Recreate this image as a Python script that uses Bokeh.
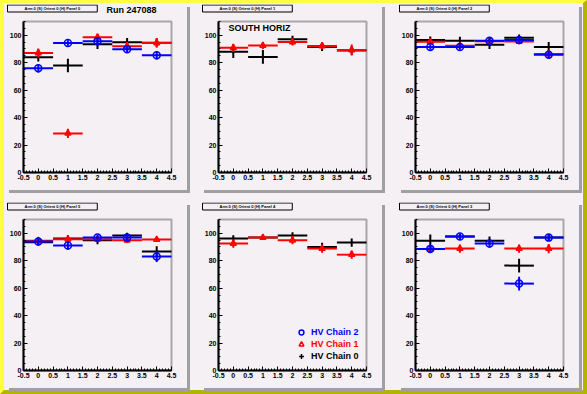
import math
from bokeh.plotting import figure
from bokeh.layouts import row, column
from bokeh.models import (Range1d, FixedTicker, Label, Legend, LegendItem, ColumnDataSource,
                          BoxAnnotation)
from bokeh.embed import file_html
from bokeh.resources import INLINE

# ---------------- data ----------------
bins = [0, 1, 2, 3, 4]
x_lo, x_hi = -0.5, 4.5
y_lo, y_hi = 0, 110
x_ticks = [-0.5, 0, 0.5, 1, 1.5, 2, 2.5, 3, 3.5, 4, 4.5]
x_tick_labels = ["-0.5", "0", "0.5", "1", "1.5", "2", "2.5", "3", "3.5", "4", "4.5"]
y_ticks = [0, 20, 40, 60, 80, 100]
y_tick_labels = ["0", "20", "40", "60", "80", "100"]

panel_titles = [
    "Arm 0 (S) Orient 0 (H) Panel 0",
    "Arm 0 (S) Orient 0 (H) Panel 1",
    "Arm 0 (S) Orient 0 (H) Panel 2",
    "Arm 0 (S) Orient 0 (H) Panel 5",
    "Arm 0 (S) Orient 0 (H) Panel 4",
    "Arm 0 (S) Orient 0 (H) Panel 3",
]
series_names = ["HV Chain 2", "HV Chain 1", "HV Chain 0"]
run_text = "Run 247088"
region_text = "SOUTH HORIZ"

# panel 0 (top left)
p0_chain0 = [83.9, 78.0, 93.4, 94.9, 94.6]
p0_chain0_err = [3.0, 4.9, 3.5, 3.0, 3.0]
p0_chain1 = [87.1, 28.5, 98.5, 92.0, 94.4]
p0_chain1_err = [3.3, 3.4, 2.5, 3.0, 3.5]
p0_chain2 = [75.9, 94.4, 95.6, 89.8, 85.4]
p0_chain2_err = [3.0, 2.0, 3.0, 2.5, 3.0]

# panel 1 (top middle)
p1_chain0 = [87.9, 84.2, 97.1, 91.5, 88.8]
p1_chain0_err = [4.5, 5.0, 2.5, 3.0, 3.0]
p1_chain1 = [90.8, 92.5, 95.1, 92.2, 89.3]
p1_chain1_err = [3.0, 2.5, 2.5, 2.5, 4.0]
p1_chain2 = None
p1_chain2_err = None

# panel 2 (top right)
p2_chain0 = [96.6, 95.9, 93.0, 98.1, 91.5]
p2_chain0_err = [2.5, 3.0, 3.0, 2.5, 3.5]
p2_chain1 = [95.2, 92.3, 95.6, 95.4, 86.4]
p2_chain1_err = [2.0, 2.0, 2.0, 2.0, 3.0]
p2_chain2 = [91.5, 91.5, 95.9, 96.6, 85.7]
p2_chain2_err = [2.0, 2.0, 2.0, 2.0, 3.0]

# panel 3 (bottom left)
p3_chain0 = [93.4, 96.1, 94.9, 98.3, 86.6]
p3_chain0_err = [2.0, 2.5, 3.0, 2.0, 4.0]
p3_chain1 = [94.6, 95.6, 95.6, 94.9, 95.4]
p3_chain1_err = [2.0, 1.5, 1.5, 2.0, 1.5]
p3_chain2 = [93.9, 91.0, 96.8, 96.8, 83.0]
p3_chain2_err = [3.0, 3.0, 2.0, 2.0, 4.0]

# panel 4 (bottom middle)
p4_chain0 = [96.1, 96.8, 98.3, 90.0, 93.2]
p4_chain0_err = [2.5, 1.5, 2.5, 3.0, 3.0]
p4_chain1 = [92.5, 96.8, 94.9, 88.8, 84.4]
p4_chain1_err = [3.0, 1.5, 3.0, 3.0, 3.0]
p4_chain2 = None
p4_chain2_err = None

# panel 5 (bottom right)
p5_chain0 = [94.6, 97.6, 94.6, 76.4, 96.8]
p5_chain0_err = [4.5, 2.0, 3.0, 5.0, 2.5]
p5_chain1 = [88.6, 88.8, None, 88.8, 88.8]
p5_chain1_err = [2.0, 3.0, None, 3.0, 3.3]
p5_chain2 = [88.6, 97.6, 92.5, 63.3, 96.8]
p5_chain2_err = [3.0, 2.0, 3.0, 5.0, 2.5]

panels = [
    (p0_chain0, p0_chain0_err, p0_chain1, p0_chain1_err, p0_chain2, p0_chain2_err),
    (p1_chain0, p1_chain0_err, p1_chain1, p1_chain1_err, p1_chain2, p1_chain2_err),
    (p2_chain0, p2_chain0_err, p2_chain1, p2_chain1_err, p2_chain2, p2_chain2_err),
    (p3_chain0, p3_chain0_err, p3_chain1, p3_chain1_err, p3_chain2, p3_chain2_err),
    (p4_chain0, p4_chain0_err, p4_chain1, p4_chain1_err, p4_chain2, p4_chain2_err),
    (p5_chain0, p5_chain0_err, p5_chain1, p5_chain1_err, p5_chain2, p5_chain2_err),
]

# ---------------- style / layout ----------------
PAD = "#f4f0f4"
FONT = "Liberation Sans"
FW, FH = 181, 186
ML, MR, MT, MB = 17, 16, 17, 18          # where the axes box sits inside each pad
BOX_W = FW - ML - MR
BOX_H = FH - MT - MB
PX_X = BOX_W / (x_hi - x_lo)
PX_Y = BOX_H / (y_hi - y_lo)
# figure margins (top, right, bottom, left) per pad
MARGINS = [(1, 7, 6, 2), (1, 8, 6, 7), (1, 4, 6, 8),
           (6, 7, 2, 2), (6, 8, 2, 7), (6, 4, 2, 8)]

COLORS = {0: "black", 1: "#ff0000", 2: "#0000ff"}
MARKERS = {0: "cross", 1: "triangle", 2: "circle"}
MSIZE = {0: 1, 1: 6, 2: 7}


def nanify(v):
    return [float("nan") if a is None else a for a in v]


def add_series(p, y, err, chain):
    col = COLORS[chain]
    if y is None:
        # series not present in this panel: nothing drawn, renderer kept for the legend icon
        src = ColumnDataSource(dict(x=bins, y=[float("nan")] * len(bins)))
        return p.scatter("x", "y", source=src, marker=MARKERS[chain], size=MSIZE[chain],
                         line_color=col, fill_color=None, line_width=1.5)
    yy = nanify(y)
    ee = nanify(err)
    src = ColumnDataSource(dict(
        x=bins, y=yy,
        xl=[b - 0.5 for b in bins], xr=[b + 0.5 for b in bins],
        lo=[a - e for a, e in zip(yy, ee)], hi=[a + e for a, e in zip(yy, ee)],
    ))
    p.segment("xl", "y", "xr", "y", source=src, line_color=col, line_width=2)
    p.segment("x", "lo", "x", "hi", source=src, line_color=col, line_width=2)
    return p.scatter("x", "y", source=src, marker=MARKERS[chain], size=MSIZE[chain],
                     line_color=col, fill_color=None, line_width=1.5)


def make_panel(idx):
    p = figure(width=FW, height=FH,
               x_range=Range1d(x_lo - ML / PX_X, x_hi + MR / PX_X),
               y_range=Range1d(y_lo - MB / PX_Y, y_hi + MT / PX_Y),
               output_backend="svg", toolbar_location=None,
               min_border=0, min_border_left=0, min_border_right=0,
               min_border_top=0, min_border_bottom=0,
               background_fill_color=PAD, border_fill_color=PAD,
               outline_line_color=None,
               margin=MARGINS[idx],
               styles={"box-shadow": "3px 3px 0px #a0a0a0"})
    p.title.visible = False
    p.grid.visible = False
    p.xaxis.fixed_location = y_lo
    p.yaxis.fixed_location = x_lo
    p.xaxis.bounds = (x_lo, x_hi)
    p.yaxis.bounds = (y_lo, y_hi)
    p.xaxis.ticker = FixedTicker(ticks=x_ticks, minor_ticks=[round(-0.5 + 0.1 * i, 2) for i in range(51)])
    p.yaxis.ticker = FixedTicker(ticks=y_ticks, minor_ticks=list(range(0, 111, 5)))
    p.xaxis.major_label_overrides = dict(zip(x_ticks, x_tick_labels))
    p.yaxis.major_label_overrides = dict(zip(y_ticks, y_tick_labels))
    for ax in (p.xaxis[0], p.yaxis[0]):
        ax.axis_line_width = 2
        ax.axis_line_color = "black"
        ax.major_tick_in = 4
        ax.major_tick_out = 0
        ax.minor_tick_in = 2
        ax.minor_tick_out = 0
        ax.major_tick_line_width = 1
        ax.minor_tick_line_width = 1
        ax.major_label_text_font = FONT
        ax.major_label_text_font_style = "bold"
        ax.major_label_text_font_size = "7px"
        ax.major_label_text_color = "black"
        ax.major_label_standoff = 2

    # axes box
    p.add_layout(BoxAnnotation(left=x_lo, right=x_hi, bottom=y_lo, top=y_hi,
                               fill_alpha=0, line_color="black", line_width=2,
                               level="underlay"))

    c0, e0, c1, e1, c2, e2 = panels[idx]
    r0 = add_series(p, c0, e0, 0)
    r1 = add_series(p, c1, e1, 1)
    r2 = add_series(p, c2, e2, 2)

    # title box (with shadow)
    pad = dict(left=17, right=17, top=1, bottom=1)
    common = dict(x=1, y=FH - 0.5, x_units="screen", y_units="screen",
                  text=panel_titles[idx], text_font=FONT, text_font_style="bold",
                  text_font_size="4px", anchor="top_left", padding=pad)
    sh = dict(common)
    sh["x"] = common["x"] + 1.5
    sh["y"] = common["y"] - 1.5
    p.add_layout(Label(**sh, text_alpha=0, background_fill_color="black"))
    p.add_layout(Label(**common, text_color="black", background_fill_color=PAD,
                       border_line_color="black", border_line_width=1))

    if idx == 0:
        p.add_layout(Label(x=100, y=FH - 5, x_units="screen", y_units="screen",
                           text=run_text, text_font=FONT, text_font_style="bold",
                           text_font_size="9px", text_baseline="middle", text_align="left",
                           text_color="black"))
    if idx == 1:
        p.add_layout(Label(x=ML + 10, y=FH - 23, x_units="screen", y_units="screen",
                           text=region_text, text_font=FONT, text_font_style="bold",
                           text_font_size="9px", text_baseline="middle", text_align="left",
                           text_color="black"))
    if idx == 4:
        for k, (r, name) in enumerate(zip([r2, r1, r0], series_names)):
            col = COLORS[2 - k]
            lg = Legend(items=[LegendItem(label=name, renderers=[r])],
                        location=(94, 50 - 12 * k), padding=0, margin=0, spacing=0,
                        glyph_width=12, glyph_height=12, label_height=12, label_standoff=4,
                        label_text_color=col, label_text_font=FONT,
                        label_text_font_style="bold", label_text_font_size="9px",
                        label_text_baseline="middle",
                        border_line_alpha=0, background_fill_alpha=0)
            p.add_layout(lg)
    return p


figs = [make_panel(i) for i in range(6)]
layout = column(
    row(*figs[:3]), row(*figs[3:]),
    styles={
        "background-color": PAD,
        "border-top": "3px solid #ffff40",
        "border-left": "4px solid #ffff40",
        "border-right": "4px solid #b4b400",
        "border-bottom": "4px solid #b4b400",
    },
)

open("out.html", "w").write(file_html(layout, INLINE))
